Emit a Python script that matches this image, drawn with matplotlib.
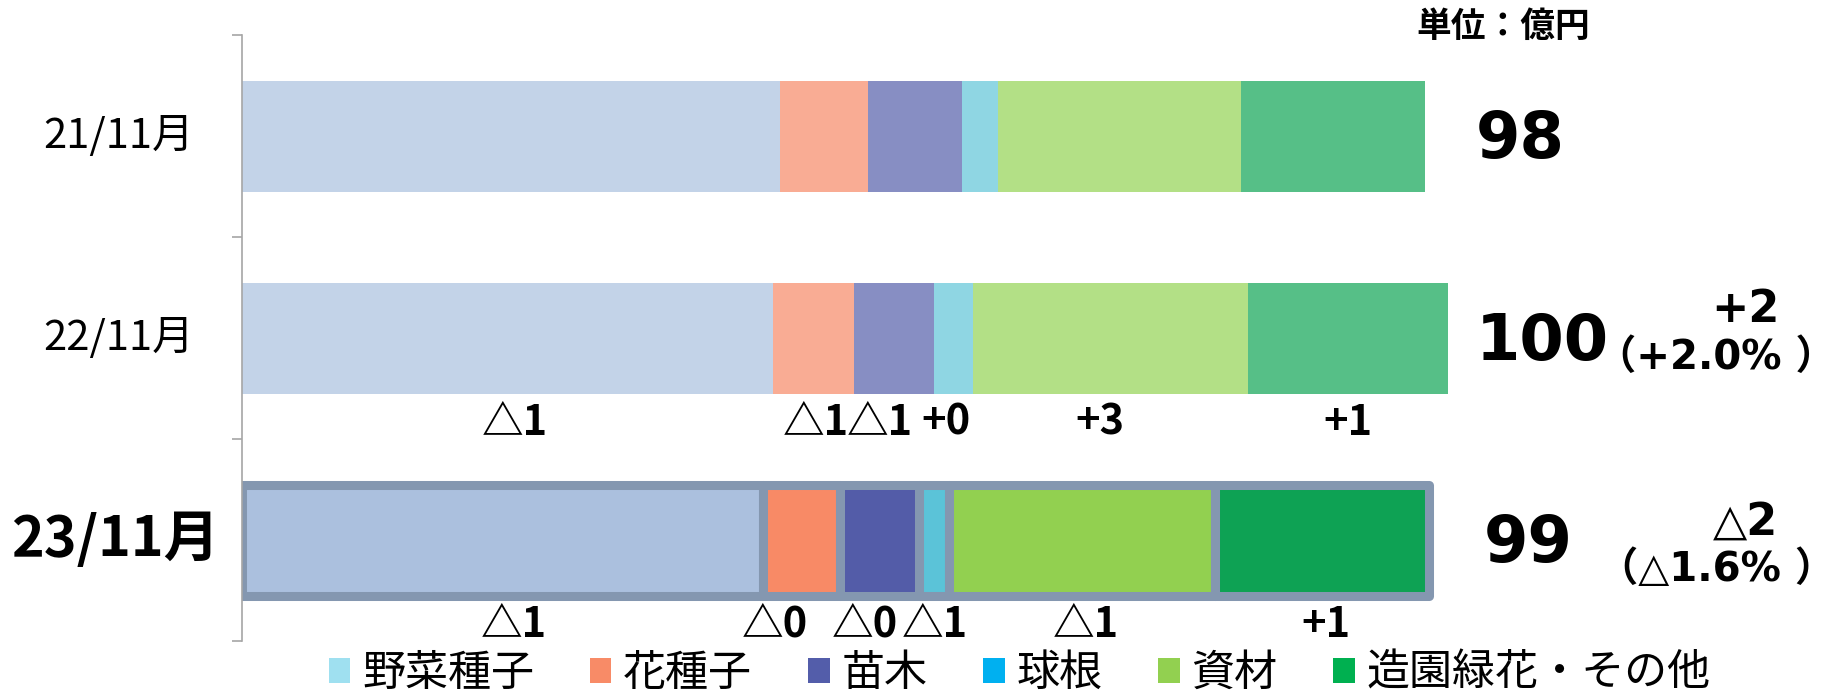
import numpy as np
import matplotlib
matplotlib.use("Agg")
import matplotlib.pyplot as plt
import matplotlib.patches as mpatches
from matplotlib.transforms import blended_transform_factory

# =========================
# Data (unit: 億円)
# =========================
periods = ["21/11月", "22/11月", "23/11月"]
items = ["野菜種子", "花種子", "苗木", "球根", "資材", "造園緑花・その他"]

sales_2111 = [44.6, 7.3, 7.8, 3.0, 20.1, 15.3]
sales_2211 = [44.0, 6.7, 6.7, 3.2, 22.8, 16.6]
sales_2311 = [43.2, 6.4, 6.5, 2.5, 22.1, 17.7]

totals = ["98", "100", "99"]
change_abs = ["", "+2", "△2"]
change_pct = ["", "（+2.0% ）", "（△1.6% ）"]

diff_2211 = ["△1", "△1", "△1", "+0", "+3", "+1"]
diff_2311 = ["△1", "△0", "△0", "△1", "△1", "+1"]

# =========================
# Styles
# =========================
past_colors = ["#C3D3E8", "#F9AC94", "#878EC3", "#8FD6E3", "#B3E086", "#56BF87"]
latest_colors = ["#ABC0DE", "#F88A66", "#535CA8", "#5BC3D8", "#92D050", "#0EA254"]
legend_colors = ["#9FE0F0", "#F88B67", "#535DAA", "#00B0F0", "#92D050", "#00B050"]

# small nudges of the change labels (data units) so they do not collide
nudge_2211 = [0.6, 0.2, -1.2, -0.6, -0.9, 0.0]
nudge_2311 = [0.9, -2.2, -1.2, 0.1, 0.3, 0.3]
total_nudge = [0.0, 0.0, 0.6]

narrow = ["Liberation Sans Narrow", "Noto Sans CJK JP"]
cjk = ["Noto Sans CJK JP", "DejaVu Sans"]
wide = ["DejaVu Sans", "Noto Sans CJK JP"]

# =========================
# Figure
# =========================
fig = plt.figure(figsize=(18.44, 6.99), dpi=100)
ax = fig.add_axes([0.1312, 0.083, 0.8688, 0.8665])
ax.set_xlim(0, 132.8)
ax.set_ylim(2.5, -0.5)

rows = [sales_2111, sales_2211, sales_2311]
bar_h = 0.55
for i, vals in enumerate(rows):
    left = np.concatenate([[0], np.cumsum(vals)[:-1]])
    if i < 2:
        ax.barh(i, vals, left=left, height=bar_h, color=past_colors, linewidth=0)
    else:
        bars = ax.barh(i, vals, left=left, height=bar_h, color=latest_colors,
                       edgecolor="#8497B0", linewidth=6.5)
        for b in bars:
            b.set_joinstyle("round")

# change labels under bars 2 and 3
for row, labels, nudges in [(1, diff_2211, nudge_2211), (2, diff_2311, nudge_2311)]:
    vals = rows[row]
    centers = np.cumsum(vals) - np.array(vals) / 2
    for c, lab, dx in zip(centers, labels, nudges):
        ax.text(c + dx, row + 0.42, lab, ha="center", va="center",
                fontsize=30, fontweight="bold", family=narrow)

# totals
for i, t in enumerate(totals):
    ax.text(102.3 + total_nudge[i], i + 0.02, t, ha="left", va="center",
            fontsize=46, fontweight="bold", family=wide)

# change vs previous year
for i in range(len(periods)):
    if change_abs[i]:
        off = 0.0 if i == 1 else 0.05
        ax.text(124.6, i - 0.14 + off, change_abs[i], ha="center", va="center",
                fontsize=32, fontweight="bold", family=wide)
        ax.text(122.2, i + 0.10 + off, change_pct[i], ha="center", va="center",
                fontsize=29, fontweight="bold", family=wide)

# category labels
trans = blended_transform_factory(ax.transAxes, ax.transData)
for i, p in enumerate(periods):
    if i == 2:
        ax.text(-0.014, i, p, transform=trans, ha="right", va="center",
                fontsize=40, fontweight="bold", family=narrow)
    else:
        ax.text(-0.030, i, p, transform=trans, ha="right", va="center",
                fontsize=30, family=narrow)

# axes cosmetics
for s in ["top", "right", "bottom"]:
    ax.spines[s].set_visible(False)
ax.spines["left"].set_color("#A6A6A6")
ax.spines["left"].set_linewidth(1.2)
ax.set_xticks([])
ax.set_yticks([0, 1, 2])
ax.set_yticklabels([])
ax.tick_params(axis="y", which="major", length=0)
ax.set_yticks([-0.5, 0.5, 1.5, 2.5], minor=True)
ax.tick_params(axis="y", which="minor", length=7, color="#A6A6A6", width=1.2)

fig.text(0.815, 0.962, "単位：億円", ha="center", va="center", fontsize=25,
         fontweight="bold", family=cjk)

handles = [mpatches.Patch(facecolor=c, edgecolor="none") for c in legend_colors]
fig.legend(handles, items, loc="center", bbox_to_anchor=(0.553, 0.036), ncol=6,
           frameon=False, prop={"family": cjk, "size": 31},
           handlelength=0.5, handleheight=0.5, handletextpad=0.27,
           columnspacing=1.3, borderpad=0)

fig.savefig("out.png", dpi=100)
plt.close(fig)
